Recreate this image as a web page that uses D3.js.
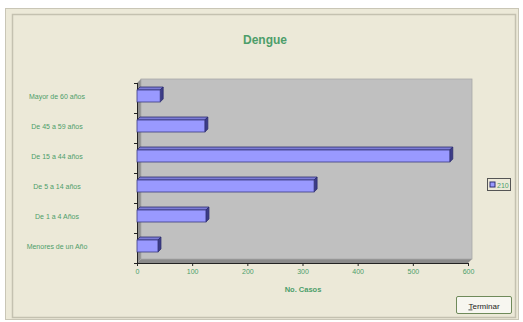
<!DOCTYPE html>
<html><head><meta charset="utf-8">
<script src="https://cdn.jsdelivr.net/npm/d3@7"></script>
<style>body{margin:0;background:#fff;}svg{display:block;}</style>
</head><body>
<svg id="c" width="523" height="322"></svg>
<script>
const categories = ["Mayor de 60 años","De 45 a 59 años","De 15 a 44 años","De 5 a 14 años","De 1 a 4 Años","Menores de un Año"];
const values = [42, 123, 567, 321, 125, 38];
const seriesName = "210";
const xTicks = [0,100,200,300,400,500,600];
const title = "Dengue";
const xTitle = "No. Casos";

const svg = d3.select("#c");
const green = "#4d9e6a";
const font = "Liberation Sans, Arial, sans-serif";

// window panel
svg.append("rect").attr("x",5.5).attr("y",8.5).attr("width",513).attr("height",311).attr("fill","#ECE9D8").attr("stroke","#c9c6b6");
svg.append("rect").attr("x",12.5).attr("y",14.5).attr("width",503).attr("height",303).attr("fill","#ECE9D8").attr("stroke","#c4c1b0").attr("stroke-width",1.5);

svg.append("text").attr("x",265).attr("y",44).attr("text-anchor","middle").attr("font-family",font)
  .attr("font-size",12).attr("font-weight","bold").attr("fill",green).text(title);

const x = d3.scaleLinear().domain([0,600]).range([137,468]);
const y = d3.scaleBand().domain(categories).range([79,259]);
const d = 4; // depth
const x0 = x(0), yB = y.range()[1];

// walls
svg.append("polygon").attr("points",[[x0,yB+d],[x0+d,yB],[x(600)+d,yB],[x(600),yB+d]].join(" ")).attr("fill","#8a8a8a");
svg.append("polygon").attr("points",[[x0,y.range()[0]+d],[x0+d,y.range()[0]],[x0+d,yB],[x0,yB+d]].join(" ")).attr("fill","#8f8f8f");
svg.append("rect").attr("x",x0+d).attr("y",y.range()[0]).attr("width",x(600)-x0).attr("height",yB-y.range()[0]).attr("fill","#C0C0C0").attr("stroke","#a8a8a8").attr("stroke-width",0.8);

// axes lines
svg.append("line").attr("x1",x0+0.5).attr("x2",x0+0.5).attr("y1",y.range()[0]+d).attr("y2",yB+d).attr("stroke","#222");
svg.append("line").attr("x1",x0).attr("x2",x(600)).attr("y1",yB+d+0.5).attr("y2",yB+d+0.5).attr("stroke","#222");

// y ticks at boundaries
const bounds = categories.map(c=>y(c)).concat([yB]);
svg.selectAll(".yt").data(bounds).join("line").attr("x1",x0-3).attr("x2",x0).attr("y1",b=>b+d+0.5).attr("y2",b=>b+d+0.5).attr("stroke","#222");

// x axis
const xa = svg.append("g").attr("transform",`translate(0,${yB+d})`).call(d3.axisBottom(x).tickValues(xTicks).tickSize(3).tickPadding(3));
xa.select(".domain").remove();
xa.selectAll("line").attr("stroke","#222");
xa.selectAll("text").attr("font-family",font).attr("font-size",7).attr("fill",green);

svg.append("text").attr("x",303).attr("y",292).attr("text-anchor","middle").attr("font-family",font)
  .attr("font-size",7.5).attr("font-weight","bold").attr("fill",green).text(xTitle);

// category labels
svg.selectAll(".cl").data(categories).join("text").attr("x",57).attr("y",c=>y(c)+y.bandwidth()/2+2+2.5)
  .attr("text-anchor","middle").attr("font-family",font).attr("font-size",7).attr("fill",green).text(c=>c);

// bars
const bh = 12;
const g = svg.append("g");
categories.forEach((c,i)=>{
  const v = values[i];
  const top = y(c)+y.bandwidth()/2 - bh/2 + 2;
  const xs = x0, xe = x(v);
  g.append("polygon").attr("points",[[xs,top],[xs+3,top-3],[xe+3,top-3],[xe,top]].join(" ")).attr("fill","#7c7cd6").attr("stroke","#2e2e70").attr("stroke-width",0.8);
  g.append("polygon").attr("points",[[xe,top],[xe+3,top-3],[xe+3,top+bh-3],[xe,top+bh]].join(" ")).attr("fill","#3c3c88").attr("stroke","#2e2e70").attr("stroke-width",0.8);
  g.append("rect").attr("x",xs).attr("y",top).attr("width",xe-xs).attr("height",bh).attr("fill","#9999FF").attr("stroke","#3a3a80").attr("stroke-width",0.8);
});

// legend
svg.append("rect").attr("x",487.5).attr("y",178.5).attr("width",23).attr("height",12).attr("fill","#ECE9D8").attr("stroke","#555");
svg.append("rect").attr("x",490).attr("y",182).attr("width",5).attr("height",5).attr("fill","#9999FF").attr("stroke","#2e2e70");
svg.append("text").attr("x",497).attr("y",187.5).attr("font-family",font).attr("font-size",7).attr("fill",green).text(seriesName);

// button
svg.append("rect").attr("x",456.5).attr("y",296.5).attr("width",55).attr("height",17).attr("rx",1.5).attr("fill","#f7f6f0").attr("stroke","#6f8a5a");
const bt = svg.append("text").attr("x",484).attr("y",308.5).attr("text-anchor","middle").attr("font-family",font).attr("font-size",8).attr("fill","#222");
bt.append("tspan").attr("text-decoration","underline").text("T");
bt.append("tspan").text("erminar");
</script>
</body></html>
